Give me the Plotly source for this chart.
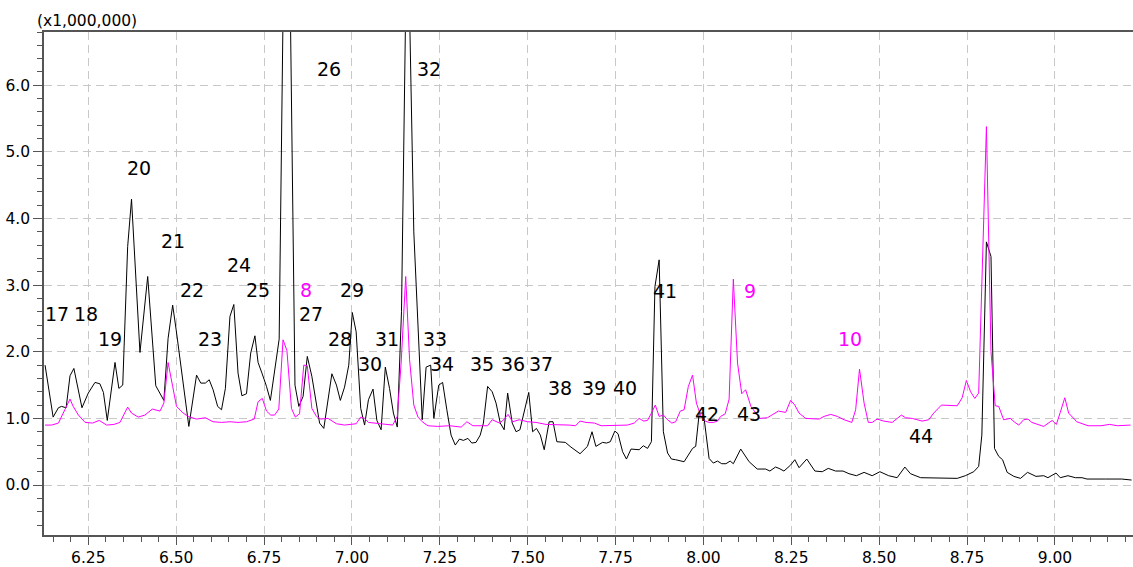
import plotly.graph_objects as go

# Retention time (min) and intensity (x1,000,000) of the black trace
black_rt = [
    6.127, 6.150, 6.165, 6.174, 6.187, 6.198, 6.209, 6.232, 6.250, 6.269,
    6.283, 6.293, 6.304, 6.326, 6.337, 6.348, 6.362, 6.373, 6.397, 6.419,
    6.442, 6.465, 6.477, 6.490, 6.500, 6.519, 6.536, 6.558, 6.570, 6.583,
    6.594, 6.605, 6.618, 6.629, 6.640, 6.653, 6.664, 6.676, 6.687, 6.700,
    6.712, 6.724, 6.733, 6.744, 6.757, 6.768, 6.780, 6.793, 6.805, 6.817,
    6.838, 6.849, 6.861, 6.873, 6.886, 6.899, 6.908, 6.920, 6.932, 6.943,
    6.956, 6.967, 6.979, 6.991, 7.001, 7.012, 7.025, 7.036, 7.047, 7.060,
    7.071, 7.083, 7.095, 7.107, 7.118, 7.129, 7.141, 7.153, 7.164, 7.176,
    7.200, 7.211, 7.224, 7.233, 7.247, 7.258, 7.270, 7.282, 7.294, 7.306,
    7.317, 7.330, 7.341, 7.353, 7.365, 7.374, 7.386, 7.399, 7.410, 7.422,
    7.433, 7.443, 7.456, 7.467, 7.478, 7.491, 7.503, 7.514, 7.525, 7.536,
    7.547, 7.561, 7.572, 7.583, 7.594, 7.607, 7.623, 7.637, 7.649, 7.670,
    7.683, 7.694, 7.713, 7.724, 7.735, 7.748, 7.757, 7.770, 7.781, 7.794,
    7.806, 7.817, 7.829, 7.841, 7.852, 7.862, 7.874, 7.886, 7.898, 7.909,
    7.921, 7.934, 7.945, 7.957, 7.969, 7.978, 7.988, 8.000, 8.016, 8.028,
    8.040, 8.052, 8.064, 8.076, 8.085, 8.106, 8.130, 8.153, 8.177, 8.189,
    8.205, 8.215, 8.229, 8.248, 8.260, 8.272, 8.294, 8.317, 8.338, 8.355,
    8.376, 8.397, 8.414, 8.435, 8.457, 8.480, 8.502, 8.527, 8.551, 8.573,
    8.589, 8.618, 8.646, 8.670, 8.693, 8.722, 8.745, 8.769, 8.783, 8.792,
    8.805, 8.818, 8.828, 8.840, 8.851, 8.864, 8.883, 8.902, 8.922, 8.946,
    8.968, 8.980, 9.003, 9.015, 9.037, 9.058, 9.077, 9.091, 9.143, 9.190,
    9.218,
]
black_int = [
    1.80, 1.02, 1.16, 1.18, 1.16, 1.64, 1.75, 1.16, 1.38, 1.54,
    1.52, 1.39, 0.97, 1.84, 1.45, 1.50, 3.58, 4.29, 1.99, 3.13,
    1.49, 1.27, 2.20, 2.70, 2.33, 1.58, 0.88, 1.65, 1.53, 1.53,
    1.58, 1.43, 1.18, 1.13, 1.45, 2.53, 2.71, 1.68, 1.34, 1.37,
    1.98, 2.24, 1.84, 1.68, 1.48, 1.27, 1.68, 2.19, 7.50, 10.50,
    1.50, 1.18, 1.33, 1.93, 1.63, 1.18, 0.93, 0.85, 1.28, 1.67,
    1.50, 1.27, 1.47, 1.80, 2.59, 2.30, 1.15, 0.90, 1.28, 1.44,
    0.97, 0.83, 1.77, 1.45, 1.08, 0.87, 2.60, 7.20, 7.10, 3.80,
    0.98, 1.77, 1.80, 1.00, 1.50, 1.54, 1.13, 0.75, 0.60, 0.69,
    0.67, 0.70, 0.63, 0.64, 0.75, 0.93, 1.48, 1.40, 1.23, 0.93,
    0.83, 1.38, 0.93, 0.80, 0.83, 1.13, 1.39, 0.80, 0.85, 0.75,
    0.53, 0.95, 0.95, 0.65, 0.65, 0.64, 0.57, 0.52, 0.47, 0.58,
    0.80, 0.58, 0.64, 0.63, 0.65, 0.81, 0.77, 0.50, 0.39, 0.54,
    0.54, 0.53, 0.59, 0.55, 0.65, 2.98, 3.38, 0.80, 0.48, 0.39,
    0.38, 0.36, 0.35, 0.45, 0.55, 0.58, 1.08, 1.08, 0.40, 0.33,
    0.36, 0.32, 0.32, 0.36, 0.32, 0.54, 0.35, 0.24, 0.24, 0.21,
    0.27, 0.25, 0.21, 0.30, 0.38, 0.26, 0.39, 0.21, 0.20, 0.25,
    0.21, 0.21, 0.17, 0.14, 0.19, 0.14, 0.20, 0.14, 0.11, 0.27,
    0.17, 0.11, 0.11, 0.10, 0.11, 0.10, 0.14, 0.20, 0.28, 0.75,
    3.65, 3.43, 0.55, 0.43, 0.38, 0.19, 0.13, 0.10, 0.19, 0.13,
    0.14, 0.11, 0.18, 0.11, 0.14, 0.11, 0.11, 0.09, 0.09, 0.09,
    0.075,
]

# Retention time (min) and intensity (x1,000,000) of the magenta trace
magenta_rt = [
    6.127, 6.146, 6.165, 6.179, 6.198, 6.207, 6.222, 6.241, 6.262, 6.281,
    6.302, 6.323, 6.340, 6.362, 6.373, 6.392, 6.411, 6.432, 6.454, 6.465,
    6.477, 6.490, 6.501, 6.520, 6.534, 6.558, 6.583, 6.605, 6.629, 6.653,
    6.676, 6.700, 6.722, 6.733, 6.745, 6.757, 6.769, 6.780, 6.792, 6.804,
    6.815, 6.828, 6.839, 6.851, 6.863, 6.873, 6.886, 6.899, 6.911, 6.932,
    6.956, 6.979, 7.012, 7.025, 7.036, 7.047, 7.083, 7.116, 7.129, 7.140,
    7.153, 7.164, 7.176, 7.188, 7.200, 7.216, 7.244, 7.278, 7.311, 7.327,
    7.344, 7.368, 7.386, 7.399, 7.420, 7.432, 7.444, 7.457, 7.476, 7.500,
    7.524, 7.552, 7.581, 7.618, 7.636, 7.649, 7.666, 7.690, 7.709, 7.746,
    7.784, 7.803, 7.817, 7.830, 7.841, 7.852, 7.863, 7.874, 7.886, 7.898,
    7.910, 7.921, 7.934, 7.945, 7.957, 7.969, 7.980, 7.993, 8.005, 8.016,
    8.028, 8.040, 8.049, 8.062, 8.073, 8.085, 8.097, 8.109, 8.120, 8.135,
    8.149, 8.160, 8.182, 8.196, 8.213, 8.234, 8.248, 8.260, 8.272, 8.291,
    8.329, 8.343, 8.362, 8.381, 8.400, 8.422, 8.433, 8.444, 8.457, 8.469,
    8.480, 8.494, 8.513, 8.537, 8.551, 8.563, 8.575, 8.594, 8.622, 8.641,
    8.655, 8.677, 8.722, 8.736, 8.748, 8.760, 8.772, 8.783, 8.805, 8.818,
    8.830, 8.840, 8.854, 8.873, 8.886, 8.897, 8.911, 8.923, 8.934, 8.968,
    8.992, 9.004, 9.015, 9.028, 9.039, 9.062, 9.094, 9.131, 9.155, 9.178,
    9.215,
]
magenta_int = [
    0.90, 0.90, 0.93, 1.08, 1.29, 1.18, 1.05, 0.94, 0.93, 0.97,
    0.90, 0.91, 0.94, 1.17, 1.08, 1.02, 1.05, 1.14, 1.11, 1.23,
    1.84, 1.48, 1.18, 1.08, 1.03, 0.99, 1.01, 0.95, 0.94, 0.95,
    0.94, 0.95, 0.99, 1.25, 1.30, 1.11, 1.05, 1.05, 1.14, 2.18,
    2.02, 1.15, 1.02, 1.07, 1.80, 1.79, 1.15, 1.03, 0.99, 1.00,
    0.92, 0.90, 0.92, 1.02, 1.00, 0.94, 0.92, 0.90, 1.03, 1.83,
    3.13, 1.88, 1.20, 1.02, 0.95, 0.89, 0.88, 0.89, 0.87, 0.95,
    0.89, 0.89, 0.89, 0.98, 0.93, 0.98, 1.06, 0.95, 0.98, 0.95,
    0.94, 0.91, 0.91, 0.90, 0.89, 0.96, 0.94, 0.93, 0.89, 0.89,
    0.90, 0.93, 1.00, 0.96, 0.97, 1.08, 1.20, 1.03, 1.05, 0.98,
    0.93, 0.95, 1.11, 1.13, 1.48, 1.65, 1.23, 1.03, 0.96, 0.94,
    0.94, 0.96, 1.03, 1.07, 1.29, 3.09, 1.83, 1.37, 1.43, 1.18,
    1.08, 1.00, 1.01, 1.05, 1.11, 1.09, 1.27, 1.20, 1.08, 1.00,
    0.99, 1.03, 1.06, 1.03, 0.98, 0.94, 1.13, 1.74, 1.23, 0.94,
    0.94, 0.99, 0.96, 0.94, 1.00, 1.05, 1.01, 1.00, 0.96, 0.98,
    1.08, 1.20, 1.19, 1.31, 1.57, 1.40, 1.30, 1.38, 5.38, 2.00,
    1.19, 1.18, 0.98, 1.00, 0.94, 0.90, 0.98, 0.99, 0.94, 0.88,
    0.97, 0.91, 1.09, 1.31, 1.08, 0.95, 0.89, 0.89, 0.91, 0.89,
    0.90,
]

# Peak number labels: text, retention time, height, colour
label_text = ["17", "18", "19", "20", "21", "22", "23", "24", "25", "26",
              "8", "27", "28", "29", "30", "31", "32", "33", "34", "35",
              "36", "37", "38", "39", "40", "41", "9", "42", "43", "10", "44"]
label_rt = [6.160, 6.243, 6.3125, 6.3935, 6.492, 6.546, 6.597, 6.680, 6.732, 6.934,
            6.868, 6.884, 6.967, 7.000, 7.051, 7.099, 7.220, 7.236, 7.255, 7.371,
            7.457, 7.539, 7.591, 7.689, 7.776, 7.891, 8.133, 8.011, 8.130, 8.416, 8.618]
label_y = [2.57, 2.57, 2.19, 4.76, 3.66, 2.93, 2.19, 3.30, 2.93, 6.25,
           2.93, 2.57, 2.19, 2.93, 1.82, 2.19, 6.25, 2.19, 1.82, 1.82,
           1.82, 1.82, 1.46, 1.46, 1.46, 2.92, 2.92, 1.07, 1.07, 2.19, 0.73]
label_color = ["#000000"] * 10 + ["#ff00ff"] + ["#000000"] * 15 + ["#ff00ff"] \
    + ["#000000"] * 2 + ["#ff00ff", "#000000"]

FONT = "DejaVu Sans, Liberation Sans, Arial, sans-serif"
AXIS_COLOR = "#555555"
GRID_COLOR = "#c8c8c8"

fig = go.Figure()
fig.add_trace(go.Scatter(x=black_rt, y=black_int, mode="lines",
                         line=dict(color="#000000", width=1),
                         showlegend=False, hoverinfo="x+y"))
fig.add_trace(go.Scatter(x=magenta_rt, y=magenta_int, mode="lines",
                         line=dict(color="#ff00ff", width=1),
                         showlegend=False, hoverinfo="x+y"))

for t, x, y, c in zip(label_text, label_rt, label_y, label_color):
    fig.add_annotation(x=x, y=y, xref="x", yref="y", text=t, showarrow=False,
                       font=dict(family=FONT, size=19, color=c))

fig.add_annotation(x=-0.0083, y=1.0, xref="paper", yref="paper",
                   xanchor="left", yanchor="bottom", text="(x1,000,000)",
                   showarrow=False, font=dict(family=FONT, size=15.5, color="#000000"))

fig.update_layout(
    width=1133, height=567,
    margin=dict(l=44, r=0, t=32, b=32),
    paper_bgcolor="#ffffff", plot_bgcolor="#ffffff",
    font=dict(family=FONT, size=15.5, color="#000000"),
    showlegend=False,
)
fig.update_xaxes(
    range=[6.124, 9.222], tick0=6.0, dtick=0.25, tickformat=".2f",
    ticks="outside", ticklen=8, tickcolor=AXIS_COLOR, tickwidth=1,
    showline=True, linecolor=AXIS_COLOR, linewidth=1.5, mirror=True,
    showgrid=True, gridcolor=GRID_COLOR, griddash="8px,5px", gridwidth=1,
    zeroline=False,
    minor=dict(dtick=0.05, tick0=6.0, ticks="outside", ticklen=5,
               tickcolor=AXIS_COLOR, showgrid=False),
)
fig.update_yaxes(
    range=[-0.75, 6.80], tick0=0.0, dtick=1.0, tickformat=".1f",
    ticks="outside", ticklen=9, tickcolor=AXIS_COLOR, tickwidth=1,
    showline=True, linecolor=AXIS_COLOR, linewidth=1.5, mirror=False,
    showgrid=True, gridcolor=GRID_COLOR, griddash="8px,5px", gridwidth=1,
    zeroline=False,
    minor=dict(dtick=0.2, tick0=0.0, ticks="outside", ticklen=5,
               tickcolor=AXIS_COLOR, showgrid=False),
)

fig.write_html("out.html")
